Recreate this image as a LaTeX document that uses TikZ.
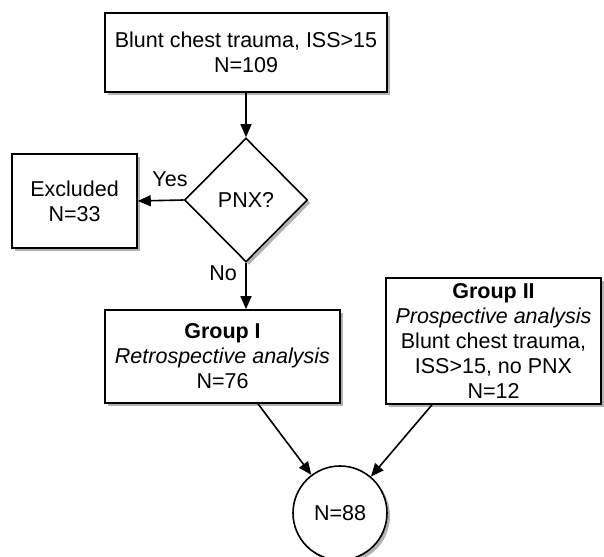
\documentclass[tikz,border=0pt]{standalone}
\usepackage{fontspec}
\setmainfont{Liberation Sans}
\usetikzlibrary{shapes.geometric,arrows.meta,shadows,calc}
\begin{document}
\begin{tikzpicture}[x=1pt,y=-1pt,
  every node/.style={font=\fontsize{21.5}{25}\selectfont, align=center, inner sep=0pt},
  box/.style={draw, line width=1.6pt, fill=white, rectangle,
    drop shadow={shadow xshift=3pt, shadow yshift=-3pt, fill=black, opacity=0.3}},
  dia/.style={draw, line width=1.6pt, fill=white, diamond, minimum width=123pt, minimum height=124pt,
    drop shadow={shadow xshift=3pt, shadow yshift=-3pt, fill=black, opacity=0.3}},
  circ/.style={draw, line width=1.6pt, fill=white, circle, minimum size=94pt,
    drop shadow={shadow xshift=3pt, shadow yshift=-3pt, fill=black, opacity=0.3}},
  conn/.style={line width=1.6pt, -{Triangle[length=13pt,width=11pt]}},
  lbl/.style={font=\fontsize{21.5}{25}\selectfont}
]
\useasboundingbox (0,0) rectangle (604,556);
\node[box, minimum width=282pt, minimum height=79pt] (top) at (246,52.5) {Blunt chest trauma, ISS>15\\N=109};
\node[dia] (pnx) at (246,200) {PNX?};
\node[box, minimum width=125pt, minimum height=94pt] (exc) at (74.5,201) {Excluded\\N=33};
\node[box, minimum width=235pt, minimum height=93pt] (g1) at (222.5,356.5) {\textbf{Group I}\\\textit{Retrospective analysis}\\N=76};
\node[box, minimum width=215pt, minimum height=126pt] (g2) at (493.5,341) {\textbf{Group II}\\\textit{Prospective analysis}\\Blunt chest trauma,\\ISS>15, no PNX\\N=12};
\node[circ] (c) at (340,513) {N=88};
\node[lbl] (yes) at (170,179) {Yes};
\node[lbl] (no) at (223,273) {No};
\draw[conn] (top.south -| pnx.north) -- (pnx.north);
\draw[conn] (pnx.west) -- (exc.east);
\draw[conn] (pnx.south) -- (pnx.south |- g1.north);
\draw[conn] ([xshift=35.5pt]g1.south) -- (c);
\draw[conn] ([xshift=-61.5pt]g2.south) -- (c);
\end{tikzpicture}
\end{document}
